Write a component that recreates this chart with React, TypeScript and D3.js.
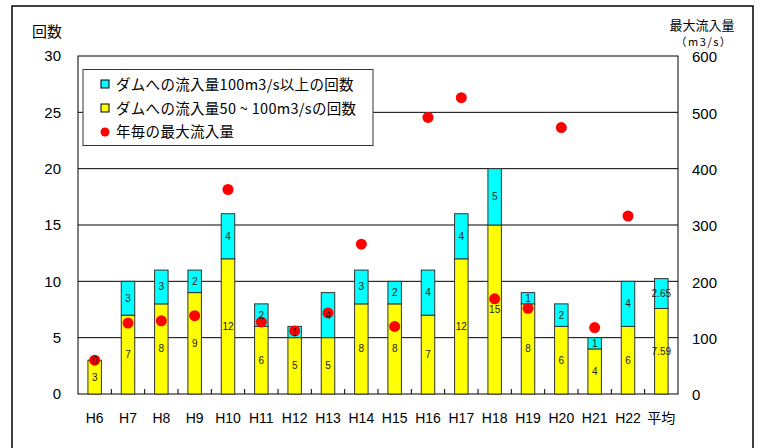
import React from "react";
import * as d3 from "d3";

const categories = ["H6","H7","H8","H9","H10","H11","H12","H13","H14","H15","H16","H17","H18","H19","H20","H21","H22","平均"];
const count50to100 = [3,7,8,9,12,6,5,5,8,8,7,12,15,8,6,4,6,7.59];
const count100plus = [0,3,3,2,4,2,1,4,3,2,4,4,5,1,2,1,4,2.65];
const maxInflow: (number | null)[] = [60,126,130,139,363,128,112,144,266,120,491,526,169,152,473,118,316,null];
const leftTicks = [0,5,10,15,20,25,30];
const rightTicks = [0,100,200,300,400,500,600];

const W = 760, H = 448;
const m = { left: 78, right: 678, top: 56, bottom: 394 };
const FONT = "'Liberation Sans', Arial, 'Noto Sans CJK JP', sans-serif";
const JFONT = "'Noto Sans CJK JP', 'Liberation Sans', sans-serif";

export default function App() {
  const x = d3.scaleBand<string>().domain(categories).range([m.left, m.right]).paddingInner(0).paddingOuter(0);
  const y = d3.scaleLinear().domain([0, 30]).range([m.bottom, m.top]);
  const y2 = d3.scaleLinear().domain([0, 600]).range([m.bottom, m.top]);
  const bw = 13.5;
  const fmt = (v: number) => String(v);
  const cxOf = (c: string) => x(c)! + x.bandwidth() / 2;

  return (
    <svg width={W} height={H} style={{ position: "absolute", left: 0, top: 0, background: "#fff" }} fontFamily={FONT}>
      <rect x={12} y={6} width={741} height={460} fill="#fff" stroke="#000" strokeWidth={1.5} />
      {/* gridlines */}
      {leftTicks.filter(t => t > 0 && t < 30).map(t => (
        <line key={t} x1={m.left} x2={m.right} y1={y(t)} y2={y(t)} stroke="#000" strokeWidth={1} />
      ))}
      <rect x={m.left} y={m.top} width={m.right - m.left} height={m.bottom - m.top} fill="none" stroke="#000" strokeWidth={1} />
      {/* x category ticks */}
      {categories.slice(1).map(c => (
        <line key={c} x1={x(c)!} x2={x(c)!} y1={m.bottom} y2={m.bottom - 5} stroke="#000" strokeWidth={1} />
      ))}
      {/* bars */}
      {categories.map((c, i) => {
        const cx = cxOf(c);
        const a = count50to100[i];
        const b = count100plus[i];
        return (
          <g key={c}>
            <rect x={cx - bw / 2} y={y(a)} width={bw} height={y(0) - y(a)} fill="#ffff00" stroke="#333" strokeWidth={1} />
            {b > 0 && (
              <rect x={cx - bw / 2} y={y(a + b)} width={bw} height={y(a) - y(a + b)} fill="#00ffff" stroke="#333" strokeWidth={1} />
            )}
          </g>
        );
      })}
      {/* dots */}
      {categories.map((c, i) => {
        const v = maxInflow[i];
        if (v == null) return null;
        return <circle key={c} cx={cxOf(c)} cy={y2(v)} r={5.5} fill="#ff0000" />;
      })}
      {/* bar labels (drawn above dots) */}
      {categories.map((c, i) => {
        const cx = cxOf(c);
        const a = count50to100[i];
        const b = count100plus[i];
        return (
          <g key={c}>
            <text x={cx} y={y(a / 2)} dy="0.35em" textAnchor="middle" fontSize={10} fill="#222">{fmt(a)}</text>
            <text x={cx} y={y(a + b / 2)} dy="0.35em" textAnchor="middle" fontSize={10} fill="#222">{fmt(b)}</text>
          </g>
        );
      })}
      {/* axis labels */}
      {leftTicks.map(t => (
        <text key={t} x={61} y={y(t)} dy="0.36em" textAnchor="end" fontSize={15} fill="#000">{t}</text>
      ))}
      {rightTicks.map(t => (
        <text key={t} x={692} y={y2(t) + 1} dy="0.36em" textAnchor="start" fontSize={15} fill="#000">{t}</text>
      ))}
      {categories.map(c => (
        <text key={c} x={cxOf(c)} y={418} dy="0.36em" textAnchor="middle" fontSize={14} fill="#000" fontFamily={c === "平均" ? JFONT : FONT}>{c}</text>
      ))}
      <text x={32} y={32} dy="0.36em" fontSize={15} fontFamily={JFONT} fill="#000">回数</text>
      <text x={702} y={25} dy="0.36em" textAnchor="middle" fontSize={13} fontFamily={JFONT} fill="#000">最大流入量</text>
      <text x={704} y={42} dy="0.36em" textAnchor="middle" fontSize={11} letterSpacing={1.5} fontFamily={JFONT} fill="#000">（m3/s）</text>
      {/* legend */}
      <rect x={83} y={69.5} width={290} height={76} fill="#fff" stroke="#333" strokeWidth={1} />
      <rect x={101} y={80} width={8} height={8} fill="#00ffff" stroke="#000" strokeWidth={1} />
      <text x={116} y={85} dy="0.36em" fontSize={14.5} letterSpacing={0.3} fontFamily={JFONT} fill="#000">ダムへの流入量100m3/s以上の回数</text>
      <rect x={101} y={104} width={8} height={8} fill="#ffff00" stroke="#000" strokeWidth={1} />
      <text x={116} y={108.5} dy="0.36em" fontSize={14.5} letterSpacing={0.3} fontFamily={JFONT} fill="#000">ダムへの流入量50 ~ 100m3/sの回数</text>
      <circle cx={105} cy={132} r={4.5} fill="#ff0000" />
      <text x={116} y={132} dy="0.36em" fontSize={14.5} letterSpacing={0.3} fontFamily={JFONT} fill="#000">年毎の最大流入量</text>
    </svg>
  );
}
